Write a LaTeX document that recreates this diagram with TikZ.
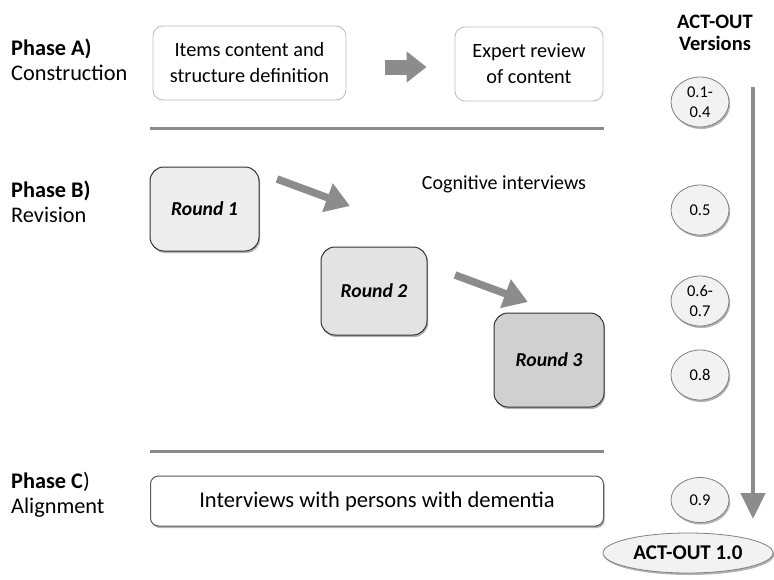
\documentclass[tikz,border=0pt]{standalone}
\usepackage{fontspec}
\setmainfont{Carlito}
\usetikzlibrary{arrows.meta,shapes.geometric,shadows,calc}
\definecolor{arrowgray}{HTML}{8C8C8C}
\definecolor{linegray}{HTML}{8A8A8A}
\definecolor{boxborder}{HTML}{BFBFBF}
\definecolor{ellfill}{HTML}{F2F2F2}
\definecolor{ellborder}{HTML}{808080}
\definecolor{roundfillA}{HTML}{EDEDED}
\definecolor{roundfillB}{HTML}{E3E3E3}
\definecolor{roundfillC}{HTML}{D0D0D0}
\tikzset{
  myshadow/.style={drop shadow={shadow xshift=1.2pt,shadow yshift=-2pt,opacity=0.3,fill=black}},
  abox/.style={draw=boxborder,line width=0.9pt,fill=white,rounded corners=10pt,align=center,
    font=\fontsize{20.3}{26}\selectfont,inner sep=0pt},
  roundbox/.style={draw=black!80,line width=1pt,rounded corners=14pt,myshadow,
    font=\fontsize{19.7}{22}\selectfont\bfseries\itshape,inner sep=0pt},
  cbox/.style={draw=black!65,line width=1pt,fill=white,rounded corners=8pt,myshadow,
    font=\fontsize{22.5}{26}\selectfont,inner sep=0pt},
  vers/.style={ellipse,draw=ellborder,line width=0.8pt,fill=ellfill,myshadow,inner sep=0pt,
    minimum width=58pt,minimum height=50pt,align=center,font=\fontsize{16.5}{20}\selectfont},
  phaselbl/.style={anchor=west,align=left,font=\fontsize{22.3}{24.5}\selectfont,inner sep=0pt},
  sepline/.style={draw=linegray,line width=3pt},
  bigarrow/.style={draw=arrowgray,line width=7.5pt,-{Triangle[length=24pt,width=29pt]}},
}
\begin{document}
\begin{tikzpicture}[x=1pt,y=-1pt]
\useasboundingbox (0,0) rectangle (774,579);

% Phase labels
\node[phaselbl] (pa) at (11,60) {\textbf{Phase A)}\\Construction};
\node[phaselbl] (pb) at (11,202) {\textbf{Phase B)}\\Revision};
\node[phaselbl] (pc) at (11,495) {\textbf{Phase C})\\Alignment};

% Phase A
\node[abox,minimum width=193pt,minimum height=74pt] (a1) at (249.5,63) {Items content and\\structure definition};
\node[abox,minimum width=148pt,minimum height=74pt] (a2) at (529,64) {Expert review\\of content};
\draw[draw=arrowgray,line width=15pt,-{Triangle[length=20pt,width=30pt]},shorten <=39pt,shorten >=28pt]
  (a1.east |- 0,67) -- (a2.west |- 0,67);

% separator lines
\coordinate (l1a) at (150,128); \coordinate (l1b) at (604,128);
\coordinate (l2a) at (150,451); \coordinate (l2b) at (604,451);
\draw[sepline] (l1a) -- (l1b);
\draw[sepline] (l2a) -- (l2b);

% Phase B
\node[roundbox,fill=roundfillA,minimum width=109pt,minimum height=84pt] (r1) at (204.5,209) {Round 1};
\node[roundbox,fill=roundfillB,minimum width=106pt,minimum height=88pt] (r2) at (374,291) {Round 2};
\node[roundbox,fill=roundfillC,minimum width=110pt,minimum height=94pt] (r3) at (549,360) {Round 3};
\node[font=\fontsize{20}{22}\selectfont,inner sep=0pt] (cog) at (504,184) {Cognitive interviews};
\coordinate (ar1s) at (277,179); \coordinate (ar1e) at (350,206);
\coordinate (ar2s) at (455,275); \coordinate (ar2e) at (528,302);
\draw[bigarrow] (ar1s) -- (ar1e);
\draw[bigarrow] (ar2s) -- (ar2e);

% Phase C
\node[cbox,minimum width=453pt,minimum height=50pt] (c1) at (377,501) {Interviews with persons with dementia};

% Versions column
\node[align=center,font=\fontsize{20.5}{22}\selectfont\bfseries,inner sep=0pt] (hdr) at (715,33) {ACT-OUT\\Versions};
\node[vers] (v1) at (700,102) {0.1-\\0.4};
\node[vers] (v2) at (700,210) {0.5};
\node[vers] (v3) at (700,301) {0.6-\\0.7};
\node[vers] (v4) at (700,375) {0.8};
\node[vers,minimum height=45pt] (v5) at (700,500) {0.9};
\node[vers,minimum width=170pt,minimum height=40pt,font=\fontsize{21}{22}\selectfont\bfseries] (v6) at (688,553) {ACT-OUT 1.0};
\coordinate (vs) at (753,87); \coordinate (ve) at (753,519);
\draw[draw=arrowgray,line width=4.5pt,-{Triangle[length=26pt,width=24pt]}] (vs) -- (ve);
\end{tikzpicture}
\end{document}
